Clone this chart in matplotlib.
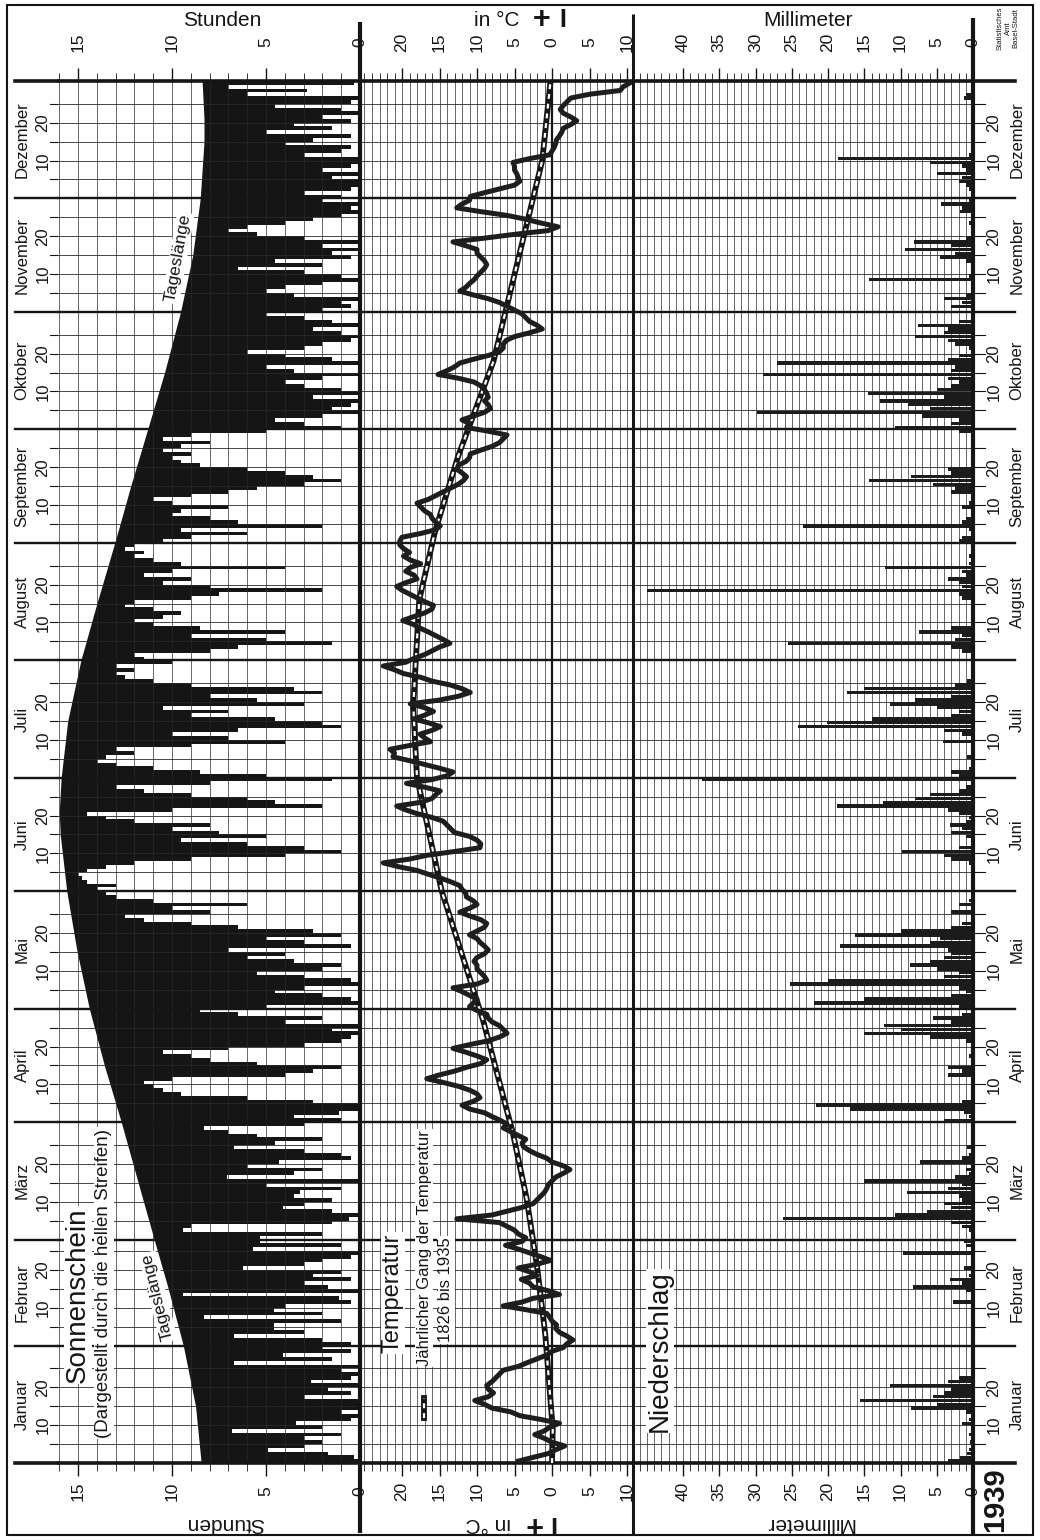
import matplotlib
matplotlib.use("Agg")
import matplotlib.pyplot as plt
from matplotlib.lines import Line2D
from matplotlib.patches import Rectangle
from matplotlib.ticker import FixedLocator, MultipleLocator
from matplotlib.transforms import blended_transform_factory

plt.rcParams["font.family"] = ["Liberation Sans", "DejaVu Sans"]

# ---------------- data (Basel 1939) ----------------
months = ["Januar", "Februar", "März", "April", "Mai", "Juni", "Juli",
          "August", "September", "Oktober", "November", "Dezember"]
month_len = [31, 28, 31, 30, 31, 30, 31, 31, 30, 31, 30, 31]

# daily mean temperature, °C
temp_jan = [4.5, 2.5, 0.5, -0.5, -1.7, 0.0, 1.0, 2.3, 1.0, 0.3, -1.0, 1.5, 4.3, 5.5, 8.0, 9.0,
            10.3, 8.5, 7.8, 8.5, 8.7, 8.0, 7.5, 7.0, 6.5, 4.5, 3.3, 2.0, 0.7, 0.0, -1.5]
temp_feb = [-2.0, -2.8, -2.0, -1.0, -0.5, -0.6, 0.0, 0.3, 0.7, 3.5, 6.5, 4.0, 2.5, -1.0,
            0.5, 2.5, 3.0, 4.1, 2.0, 3.0, 4.5, 2.0, 0.2, 1.5, 3.0, 4.5, 6.2, 4.0]
temp_mar = [3.5, 4.5, 5.0, 6.0, 7.0, 12.7, 8.0, 6.0, 4.0, 2.5, 2.0, 1.5, 1.0, 0.7, 0.5, 0.0,
            -0.5, -1.5, -2.4, -1.5, 0.0, 0.7, 2.0, 3.0, 3.8, 4.0, 3.5, 4.5, 5.5, 6.5, 6.0]
temp_apr = [6.9, 8.0, 9.0, 11.0, 12.0, 10.5, 9.6, 10.0, 11.0, 12.5, 14.5, 16.7, 15.0, 13.0,
            11.4, 9.5, 8.7, 10.0, 11.5, 13.2, 11.0, 8.5, 7.0, 6.0, 6.5, 7.0, 8.0, 8.5, 8.7, 10.0]
temp_may = [11.0, 10.5, 10.0, 11.0, 12.0, 13.2, 10.0, 8.7, 9.0, 9.5, 10.0, 10.0, 10.4, 10.0,
            9.0, 8.5, 9.0, 9.6, 10.0, 11.0, 10.0, 9.0, 8.7, 9.5, 11.0, 12.3, 11.0, 10.0, 10.5,
            11.4, 11.5]
temp_jun = [12.0, 12.3, 13.5, 14.9, 16.5, 18.0, 20.5, 22.5, 19.0, 16.7, 13.0, 9.6, 9.5, 10.0,
            11.0, 13.0, 13.5, 14.0, 14.5, 16.0, 18.0, 19.5, 20.7, 17.5, 16.0, 15.5, 14.9, 17.0,
            19.4, 16.0]
temp_jul = [14.0, 13.2, 15.0, 17.0, 19.0, 21.2, 21.0, 21.6, 19.0, 16.2, 17.0, 17.6, 16.0, 14.9,
            16.5, 18.4, 17.0, 15.8, 17.0, 18.9, 15.0, 12.5, 10.9, 12.0, 13.6, 16.0, 17.5, 19.8,
            21.0, 22.5, 19.5]
temp_aug = [18.4, 17.0, 16.0, 15.0, 13.6, 14.5, 15.5, 16.5, 17.6, 18.5, 19.9, 18.5, 17.0, 16.0,
            15.8, 17.0, 18.0, 19.0, 20.0, 20.7, 19.5, 18.0, 18.4, 19.5, 18.9, 17.5, 18.9, 19.8,
            19.0, 19.8, 20.3]
temp_sep = [20.3, 20.0, 17.5, 15.5, 14.9, 15.5, 16.0, 16.2, 17.0, 17.5, 18.0, 16.5, 15.5, 14.5,
            13.5, 12.5, 11.8, 11.4, 12.0, 12.7, 12.5, 11.5, 11.0, 10.9, 9.5, 8.0, 7.0, 6.5, 6.0, 8.5]
temp_oct = [11.4, 11.0, 12.0, 10.5, 9.0, 8.2, 8.5, 9.0, 8.5, 8.7, 9.0, 9.5, 10.4, 12.5, 15.2,
            14.0, 13.0, 12.3, 10.5, 8.5, 7.0, 6.5, 6.5, 6.1, 5.0, 3.0, 1.3, 2.0, 3.0, 3.5, 4.0]
temp_nov = [5.0, 6.0, 7.0, 8.5, 10.5, 12.3, 11.5, 11.0, 10.4, 10.0, 9.5, 9.0, 8.7, 9.0, 9.5,
            10.0, 10.0, 11.5, 13.2, 9.0, 5.0, 0.5, -0.8, 1.5, 3.5, 6.0, 9.5, 12.7, 12.0, 11.0]
temp_dec = [10.9, 9.0, 7.0, 5.0, 4.3, 4.5, 4.7, 5.0, 5.0, 5.2, 3.0, 0.3, 0.0, -0.3, -0.5, -0.6,
            -1.0, -1.3, -1.5, -2.5, -3.3, -2.5, -1.5, -1.1, -1.5, -2.0, -2.5, -5.0, -9.1, -9.5,
            -10.4]

# long-term course of the temperature 1826-1935 (day of year, °C)
normal_day = [0, 9, 34, 52, 70, 87, 117, 151, 181, 200, 228, 246, 266, 291, 309, 344, 365]
normal_temp = [0.0, -0.1, 0.9, 2.0, 3.4, 5.2, 9.2, 14.7, 18.0, 18.5, 17.7, 15.6, 12.5, 7.8,
               5.6, 1.3, 0.2]

# sunshine hours per day
sun_jan = [0.0, 0.3, 1.7, 4.9, 3.0, 2.0, 3.0, 1.0, 6.8, 2.0, 3.4, 0.5, 0.0, 1.0, 0.0, 0.0,
           0.0, 3.0, 0.5, 1.7, 0.0, 2.6, 0.5, 0.0, 1.0, 0.0, 6.7, 1.5, 4.1, 0.5, 2.0]
sun_feb = [0.5, 2.0, 6.7, 3.0, 4.6, 4.6, 1.0, 8.3, 2.0, 4.6, 4.0, 0.5, 1.1, 9.4, 0.0, 1.7,
           3.0, 0.5, 2.5, 1.0, 6.2, 3.0, 2.0, 0.5, 0.0, 5.7, 1.0, 5.3]
sun_mar = [5.3, 2.0, 9.4, 9.0, 1.5, 0.6, 0.0, 1.5, 4.1, 3.0, 1.5, 3.5, 3.2, 1.0, 5.0, 0.0,
           7.1, 3.5, 2.0, 6.0, 4.3, 0.5, 1.0, 3.0, 6.7, 4.5, 2.0, 5.5, 7.0, 8.3, 3.0]
sun_apr = [1.0, 3.5, 1.1, 0.0, 0.0, 2.5, 6.0, 9.5, 10.5, 11.0, 11.5, 10.0, 4.0, 2.5, 1.0, 5.5,
           8.0, 9.0, 10.5, 7.0, 3.0, 1.0, 0.5, 0.0, 1.5, 0.0, 4.0, 2.0, 6.5, 8.5]
sun_may = [5.0, 0.0, 0.5, 2.0, 4.5, 3.0, 0.0, 0.5, 3.0, 5.5, 2.0, 1.0, 3.5, 6.0, 4.0, 7.0,
           0.5, 3.0, 5.0, 1.0, 2.5, 6.5, 9.0, 11.5, 12.5, 8.0, 10.0, 6.0, 11.0, 13.0, 13.5]
sun_jun = [14.0, 13.0, 14.5, 14.8, 15.0, 14.5, 13.5, 12.0, 9.0, 4.0, 1.0, 3.0, 6.0, 9.5, 5.0,
           7.5, 10.0, 8.0, 12.0, 13.5, 14.5, 10.0, 2.0, 4.5, 6.0, 9.0, 11.5, 13.0, 8.0, 1.5]
sun_jul = [5.0, 8.5, 11.0, 13.0, 14.0, 13.5, 12.0, 13.0, 9.0, 4.0, 7.0, 10.0, 6.5, 1.0, 2.0,
           4.5, 9.0, 7.0, 10.5, 3.0, 5.5, 8.0, 2.0, 3.5, 9.0, 11.0, 12.5, 13.0, 12.0, 13.0, 10.0]
sun_aug = [11.5, 12.0, 8.0, 6.5, 1.5, 5.0, 9.0, 4.0, 8.5, 11.0, 12.0, 10.5, 9.5, 11.0, 12.5,
           12.0, 9.0, 7.5, 2.0, 8.0, 10.5, 9.0, 11.5, 10.0, 4.0, 9.5, 11.0, 12.0, 11.5, 12.5, 12.0]
sun_sep = [10.5, 9.0, 6.0, 9.5, 2.0, 6.5, 8.0, 10.0, 9.5, 7.0, 10.0, 11.0, 9.0, 7.0, 5.5, 3.0,
           1.0, 2.5, 4.0, 6.0, 8.5, 9.5, 10.0, 9.0, 10.5, 9.5, 8.0, 10.5, 9.0, 5.0]
sun_oct = [1.0, 3.0, 4.5, 2.0, 0.0, 1.5, 0.5, 0.0, 2.5, 0.0, 1.0, 3.0, 4.0, 2.0, 0.0, 3.5,
           5.0, 0.0, 1.5, 4.0, 6.0, 3.0, 2.0, 0.5, 0.0, 1.0, 2.5, 0.0, 1.5, 3.0, 5.0]
sun_nov = [2.0, 0.5, 1.0, 0.0, 3.5, 5.0, 4.0, 2.0, 0.0, 1.0, 3.0, 6.5, 2.0, 4.5, 0.5, 1.5,
           0.0, 2.0, 0.0, 3.0, 5.5, 7.0, 6.0, 4.0, 2.5, 1.0, 0.0, 0.5, 0.0, 2.0]
sun_dec = [1.0, 3.0, 0.5, 0.0, 0.0, 1.5, 0.0, 2.0, 0.5, 0.0, 0.0, 3.0, 1.0, 0.5, 4.0, 2.5,
           0.5, 5.0, 1.5, 3.5, 0.5, 2.0, 0.0, 1.0, 4.5, 0.5, 0.0, 6.0, 2.8, 7.0, 0.3]

# length of the day (Tageslänge), hours
daylen_day = [0, 15, 31, 46, 59, 74, 90, 105, 120, 135, 151, 166, 172, 181, 196, 212, 227,
              243, 258, 273, 288, 304, 319, 334, 349, 355, 365]
daylen_hours = [8.45, 8.75, 9.4, 10.2, 10.95, 11.8, 12.7, 13.6, 14.4, 15.05, 15.6, 15.95, 16.0,
                15.9, 15.55, 14.85, 14.0, 13.05, 12.2, 11.3, 10.4, 9.55, 8.9, 8.5, 8.3, 8.3, 8.4]

# precipitation: day of year and millimetres
rain_day = [1, 2, 3, 4, 6, 8, 11, 12, 14, 15, 16, 17, 18, 19, 20, 21, 22, 23, 24,
            43, 46, 47, 48, 49, 50, 52, 56, 58, 59,
            62, 63, 64, 65, 66, 67, 68, 69, 70, 71, 72, 73, 74, 75, 76, 77, 78, 80, 81, 82, 84, 87,
            91, 92, 93, 94, 95, 96, 103, 104, 105, 108, 112, 113, 114, 115, 116, 117, 118, 119,
            121, 122, 123, 124, 125, 126, 127, 128, 129, 130, 131, 132, 133, 134, 135, 136, 137,
            138, 139, 140, 141, 142, 143, 146, 148, 149,
            159, 160, 161, 162, 163, 166, 167, 168, 169, 170, 171, 172, 173, 174, 175, 176, 177,
            178, 179, 181,
            182, 183, 184, 187, 191, 193, 194, 195, 196, 197, 198, 199, 200, 201, 202, 203, 204,
            205, 206, 207,
            215, 216, 217, 218, 219, 220, 221, 226, 229, 230, 231, 232, 233, 234, 235, 236, 237,
            238, 240, 241, 242,
            244, 245, 247, 248, 249, 250, 253, 254, 257, 258, 259, 260, 261, 262, 263,
            273, 274, 275, 276, 277, 278, 279, 280, 281, 282, 283, 284, 285, 286, 287, 288, 289,
            290, 291, 292, 293, 295, 296, 297, 298, 299, 300, 301, 302,
            306, 307, 308, 309, 313, 314, 318, 319, 320, 321, 322, 323, 324, 328, 331, 332, 333, 334,
            337, 338, 339, 340, 341, 342, 343, 344, 345, 346, 361, 362]
rain_mm = [3.4, 1.8, 0.8, 0.5, 0.4, 0.6, 1.5, 0.5, 1.0, 8.5, 5.0, 15.6, 5.5, 4.0, 3.0, 11.4, 3.5, 2.0, 0.3,
           2.8, 1.0, 8.3, 1.5, 3.2, 0.5, 1.2, 9.6, 1.0, 1.2,
           0.5, 1.5, 3.0, 26.2, 10.7, 6.4, 3.0, 4.0, 1.5, 2.0, 9.1, 3.5, 1.5, 15.1, 2.5, 0.5, 1.0, 7.3, 1.5, 0.5, 0.8, 0.3,
           4.0, 0.5, 1.2, 17.0, 21.6, 1.5, 3.5, 1.5, 3.5, 0.5, 1.0, 6.0, 15.1, 10.0, 12.3, 3.0, 5.5, 1.5,
           2.0, 22.0, 15.0, 3.0, 1.0, 2.0, 25.2, 20.0, 4.0, 2.0, 5.0, 8.7, 6.0, 4.0, 3.0, 3.5, 18.3,
           6.0, 4.5, 16.3, 10.0, 3.0, 1.5, 3.0, 2.0, 0.5,
           0.5, 3.0, 4.0, 9.8, 2.0, 1.0, 3.0, 1.5, 3.2, 1.0, 0.5, 2.0, 3.5, 18.8, 12.4, 8.0, 6.0,
           2.0, 1.0, 37.4,
           2.0, 3.0, 0.5, 0.8, 4.2, 1.5, 4.0, 24.1, 20.2, 14.0, 3.0, 2.0, 5.0, 11.4, 8.0, 3.0, 17.4,
           15.0, 2.5, 0.8,
           1.5, 3.0, 25.5, 2.5, 1.5, 7.4, 3.0, 0.3, 1.5, 2.0, 45.0, 1.5, 2.0, 3.5, 1.0, 1.5, 12.1,
           0.5, 0.5, 0.3, 0.3,
           2.0, 1.5, 0.5, 23.4, 1.5, 1.0, 1.5, 0.5, 3.0, 2.5, 5.5, 14.4, 8.5, 3.0, 3.5,
           2.0, 10.8, 3.0, 2.0, 7.0, 29.8, 6.0, 9.0, 12.8, 4.0, 14.5, 5.0, 3.0, 2.0, 3.5, 28.9, 3.0,
           2.5, 27.0, 3.5, 2.0, 0.5, 2.5, 3.5, 8.0, 4.0, 3.5, 7.6, 2.0,
           3.0, 1.5, 4.0, 1.0, 14.4, 0.5, 1.0, 4.6, 2.5, 9.4, 3.0, 8.2, 1.0, 0.5, 1.8, 1.5, 4.4, 0.5,
           0.5, 1.0, 2.0, 1.5, 5.0, 1.0, 1.5, 6.0, 18.6, 0.5, 1.2, 1.0]

temp = (temp_jan + temp_feb + temp_mar + temp_apr + temp_may + temp_jun
        + temp_jul + temp_aug + temp_sep + temp_oct + temp_nov + temp_dec)
sun = (sun_jan + sun_feb + sun_mar + sun_apr + sun_may + sun_jun
       + sun_jul + sun_aug + sun_sep + sun_oct + sun_nov + sun_dec)
day_mid = [d + 0.5 for d in range(len(temp))]
month_start = [sum(month_len[:i]) for i in range(12)]
five_day = [s + k for s in month_start for k in (5, 10, 15, 20, 25)]

# ---------------- layout in sheet pixels ----------------
W, H = 1040, 1540
TOP, BOT = 81, 1463
INK = "#151515"


def fx(px):
    return px / W


def fy(py):
    return 1 - py / H


fig = plt.figure(figsize=(W / 100, H / 100), dpi=100)


def panel(x0, x1, xlim, major):
    ax = fig.add_axes([fx(x0), fy(BOT), (x1 - x0) / W, (BOT - TOP) / H])
    ax.set_xlim(*xlim)
    ax.set_ylim(0, 365)
    ax.set_yticks([])
    for s in ax.spines.values():
        s.set_visible(False)
    ax.xaxis.set_major_locator(FixedLocator(major))
    ax.xaxis.set_minor_locator(MultipleLocator(1))
    ax.tick_params(axis="x", which="both", direction="out", top=True, bottom=True,
                   labeltop=False, labelbottom=False, color=INK)
    ax.tick_params(axis="x", which="major", length=9.5, width=1.0)
    ax.tick_params(axis="x", which="minor", length=6, width=0.6)
    ax.set_axisbelow(False)
    ax.grid(axis="x", which="both", color="#2a2a2a", lw=0.5)
    yt = ax.get_yaxis_transform()
    ax.hlines(five_day, 0, 1, transform=yt, color="#2a2a2a", lw=0.6, zorder=2.6)
    ax.hlines(month_start[1:], 0, 1, transform=yt, color=INK, lw=1.7, zorder=2.7)
    ax.hlines([0, 365], 0, 1, transform=yt, color=INK, lw=2.6, zorder=2.8, clip_on=False)
    tr = blended_transform_factory(ax.transData, fig.transFigure)
    for v in major:
        for py in (42, 1491):
            ax.text(v, fy(py), f"{abs(v)}", transform=tr, rotation=90, ha="center",
                    va="center", fontsize=12.5, color=INK)
    return ax


ax_sun = panel(57, 360, (16.12, 0), [15, 10, 5, 0])
ax_tmp = panel(360, 633, (25.6, -10.8), [20, 15, 10, 5, 0, -5, -10])
ax_pre = panel(633, 973, (46.9, 0), [40, 35, 30, 25, 20, 15, 10, 5, 0])

# sunshine: black = length of day, white stripes = hours of sunshine
ax_sun.fill_betweenx(daylen_day, 0, daylen_hours, color=INK, lw=0, zorder=1)
ax_sun.barh(day_mid, sun, height=1.0, left=0, color="white", lw=0, zorder=2)

# temperature
ax_tmp.axvline(0, color=INK, lw=1.6, zorder=3)
ax_tmp.plot(normal_temp, normal_day, color=INK, lw=4.2, zorder=4)
ax_tmp.plot(normal_temp, normal_day, color="white", lw=1.6, ls=(0, (2.2, 2.2)), zorder=4.1)
ax_tmp.plot(temp, day_mid, color="#1e1e1e", lw=3.6, zorder=5, solid_joinstyle="round")

# precipitation
ax_pre.barh([d - 0.5 for d in rain_day], rain_mm, height=0.9, color="#1c1c1c", lw=0, zorder=3)

# ---------------- side strips with month names ----------------
trL = blended_transform_factory(fig.transFigure, ax_sun.transData)
for s in month_start[1:]:
    for a, b in ((15, 57), (973, 1015)):
        fig.add_artist(Line2D([fx(a), fx(b)], [s, s], transform=trL, color=INK, lw=1.7))
for s in (0, 365):
    for a, b in ((15, 57), (973, 1015)):
        fig.add_artist(Line2D([fx(a), fx(b)], [s, s], transform=trL, color=INK, lw=2.6))
for s in five_day:
    for a, b in ((50, 57), (973, 985)):
        fig.add_artist(Line2D([fx(a), fx(b)], [s, s], transform=trL, color=INK, lw=0.8))

for i, name in enumerate(months):
    s, n = month_start[i], month_len[i]
    for px_name, px_num in ((22, 43), (1017, 994)):
        ax_sun.text(fx(px_name), s + n / 2, name, transform=trL, rotation=90,
                    ha="center", va="center", fontsize=12, color=INK)
        for k in (10, 20):
            ax_sun.text(fx(px_num), s + k, str(k), transform=trL, rotation=90,
                        ha="center", va="center", fontsize=12, color=INK)


# ---------------- heavy rules and frame ----------------
def vrule(px, y0, y1, lw):
    fig.add_artist(Line2D([fx(px), fx(px)], [fy(y0), fy(y1)], color=INK, lw=lw,
                          solid_capstyle="butt"))


vrule(360, 22, 1533, 3.0)
vrule(633, 14, 1535, 2.2)
vrule(973, 18, 1535, 3.0)
fig.add_artist(Rectangle((fx(7), fy(1535)), (1033 - 7) / W, (1535 - 5) / H,
                         transform=fig.transFigure, fill=False, lw=1.5, ec=INK))

# ---------------- titles and labels ----------------
def label(px, py, s, **kw):
    kw.setdefault("color", INK)
    fig.text(fx(px), fy(py), s, ha="center", va="center", **kw)


label(222, 21, "Stunden", fontsize=15)
label(225, 1523, "Stunden", fontsize=15, rotation=180)
label(497, 21, "in °C", fontsize=15)
label(542, 20, "+", fontsize=22, fontweight="bold")
label(563, 20, "I", fontsize=18, fontweight="bold")
label(488, 1523, "in °C", fontsize=15, rotation=180)
label(533, 1523, "+", fontsize=22, fontweight="bold", rotation=180)
label(552, 1523, "I", fontsize=18, fontweight="bold", rotation=180)
label(808, 21, "Millimeter", fontsize=15)
label(810, 1523, "Millimeter", fontsize=15, rotation=180)
label(1008, 28, "Statistisches\nAmt\nBasel-Stadt", fontsize=5.5, rotation=90,
      multialignment="center", linespacing=1.1)
label(995, 1500, "1939", fontsize=21, fontweight="bold", rotation=90)

white = dict(fc="white", ec="none", pad=1.0)
label(78, 1295, "Sonnenschein", fontsize=20, rotation=90, bbox=white)
label(104, 1283, "(Dargestellt durch die hellen Streifen)", fontsize=13.5, rotation=90, bbox=white)
label(158, 1297, "Tageslänge", fontsize=12.5, rotation=104, bbox=white)
label(178, 258, "Tageslänge", fontsize=12.5, rotation=80, bbox=white)
label(393, 1293, "Temperatur", fontsize=17, rotation=90, bbox=white)
label(424, 1248, "Jährlicher Gang der Temperatur", fontsize=12, rotation=90, bbox=white)
label(446, 1290, "1826 bis 1935", fontsize=12, rotation=90, bbox=white)
label(660, 1351, "Niederschlag", fontsize=20, rotation=90, bbox=white)

# legend key for the long-term curve
fig.add_artist(Line2D([fx(424), fx(424)], [fy(1418), fy(1398)], color=INK, lw=4.2))
fig.add_artist(Line2D([fx(424), fx(424)], [fy(1418), fy(1398)], color="white", lw=1.6,
                      ls=(0, (2.2, 2.2))))

fig.savefig("out.png", dpi=100, facecolor="white")
